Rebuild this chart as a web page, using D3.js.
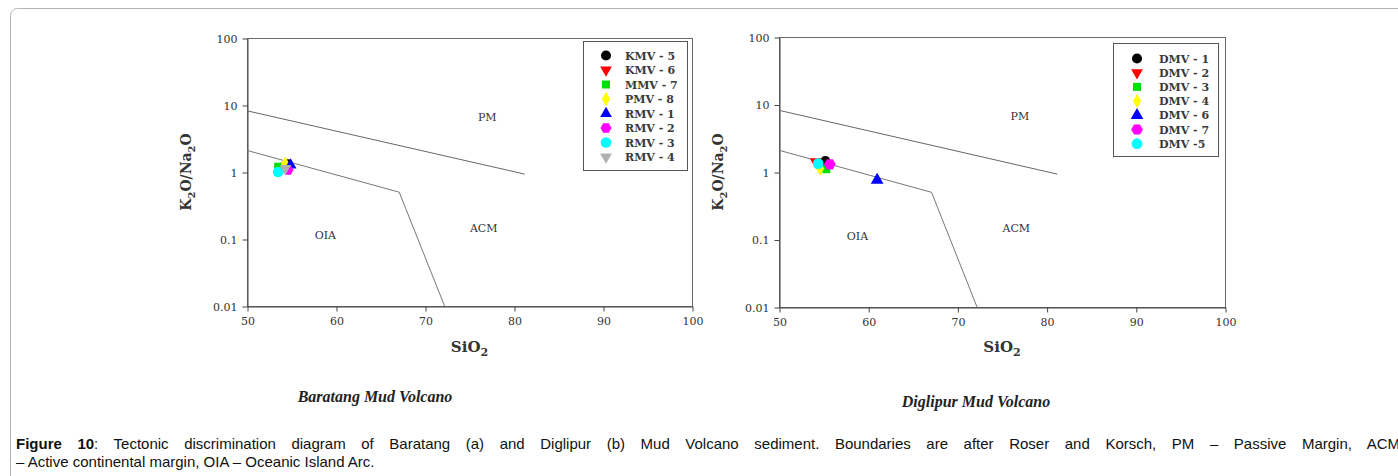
<!DOCTYPE html>
<html><head><meta charset="utf-8">
<script src="https://cdn.jsdelivr.net/npm/d3@7/dist/d3.min.js"></script>
<style>
html,body{margin:0;padding:0;background:#fff;overflow:hidden}
svg{display:block}
</style></head>
<body>
<svg id="chart" width="1398" height="476"></svg>
<script>
// ---------- data ----------
const xTicks = [50, 60, 70, 80, 90, 100];
const yTicks = [0.01, 0.1, 1, 10, 100];
const yTickLabels = ["0.01", "0.1", "1", "10", "100"];

// Roser & Korsch boundaries
const pmAcmSiO2 = [50, 81.2];
const pmAcmRatio = [8.2, 0.93];
const acmOiaSiO2 = [50, 67.1, 72.2];
const acmOiaRatio = [2.1, 0.5, 0.01];

const regionNames = ["PM", "ACM", "OIA"];
const regionSiO2 = [77, 76.6, 58.8];
const regionRatio = [5.8, 0.127, 0.1];

// Baratang samples
const leftSamples = ["KMV - 5", "KMV - 6", "MMV - 7", "PMV - 8", "RMV - 1", "RMV - 2", "RMV - 3", "RMV - 4"];
const leftSiO2 = [54.6, 54.5, 53.5, 54.3, 54.9, 54.6, 53.5, 54.3];
const leftRatio = [1.3, 1.25, 1.2, 1.33, 1.27, 1.07, 1.0, 1.13];

// Diglipur samples
const rightSamples = ["DMV - 1", "DMV - 2", "DMV - 3", "DMV - 4", "DMV - 6", "DMV - 7", "DMV -5"];
const rightSiO2 = [55.2, 54.1, 55.3, 54.6, 61.0, 55.7, 54.4];
const rightRatio = [1.45, 1.42, 1.1, 1.13, 0.76, 1.3, 1.33];

const titles = ["Baratang Mud Volcano", "Diglipur Mud Volcano"];

// ---------- styles ----------
const hexagon = {draw(ctx, size){const r=Math.sqrt(size/2.6);for(let i=0;i<6;i++){const a=Math.PI/3*i;const x=r*Math.cos(a),y=r*Math.sin(a);i?ctx.lineTo(x,y):ctx.moveTo(x,y);}ctx.closePath();}};
const downTri = {draw(ctx,size){const s=Math.sqrt(size*4/Math.sqrt(3));const h=s*Math.sqrt(3)/2;ctx.moveTo(-s/2,-h/3);ctx.lineTo(s/2,-h/3);ctx.lineTo(0,2*h/3);ctx.closePath();}};
const upTri = {draw(ctx,size){const s=Math.sqrt(size*4/Math.sqrt(3));const h=s*Math.sqrt(3)/2;ctx.moveTo(-s/2,h/3);ctx.lineTo(s/2,h/3);ctx.lineTo(0,-2*h/3);ctx.closePath();}};
const leftStyle = [
  {c:"#000000", t:d3.symbolCircle, s:80},
  {c:"#ff0000", t:downTri, s:60},
  {c:"#00e000", t:d3.symbolSquare, s:64},
  {c:"#ffff00", t:d3.symbolDiamond, s:60},
  {c:"#0000ff", t:upTri, s:60},
  {c:"#ff00ff", t:hexagon, s:80},
  {c:"#00ffff", t:d3.symbolCircle, s:90},
  {c:"#b0b0b0", t:downTri, s:60}
];
const rightStyle = [
  {c:"#000000", t:d3.symbolCircle, s:80},
  {c:"#ff0000", t:downTri, s:60},
  {c:"#00e000", t:d3.symbolSquare, s:64},
  {c:"#ffff00", t:d3.symbolDiamond, s:60},
  {c:"#0000ff", t:upTri, s:70},
  {c:"#ff00ff", t:hexagon, s:90},
  {c:"#00ffff", t:d3.symbolCircle, s:90}
];

const panels = [
  {x0:247, x1:692, y0:38, y1:306, samples:leftSamples, sio2:leftSiO2, ratio:leftRatio, style:leftStyle,
   leg:{x:583, y:41, w:104, h:129, mx:606, tx:625, ty0:55.5, dy:14.5}, ylab:191, xlabY:352, title:{x:375, y:402}},
  {x0:779, x1:1225, y0:37, y1:307, samples:rightSamples, sio2:rightSiO2, ratio:rightRatio, style:rightStyle,
   leg:{x:1113, y:43, w:105, h:113, mx:1137, tx:1159, ty0:58.5, dy:14.2}, ylab:723, xlabY:352, title:{x:976, y:407}}
];

const svg = d3.select("#chart");
const serif = "'DejaVu Serif',serif";

// outer page frame
svg.append("rect").attr("x",10.5).attr("y",8.5).attr("width",1420).attr("height",520)
  .attr("rx",7).attr("fill","none").attr("stroke","#b4b4b4").attr("stroke-width",1);

panels.forEach((p, pi) => {
  const x = d3.scaleLinear().domain([50,100]).range([p.x0,p.x1]);
  const y = d3.scaleLog().domain([0.01,100]).range([p.y1,p.y0]);
  const g = svg.append("g");

  // frame
  g.append("rect").attr("x",p.x0+0.5).attr("y",p.y0+0.5).attr("width",p.x1-p.x0).attr("height",p.y1-p.y0)
    .attr("fill","none").attr("stroke","#6a6a6a").attr("stroke-width",1);

  // axes
  const xa = g.append("g").attr("transform",`translate(0.5,${p.y1+0.5})`)
    .call(d3.axisBottom(x).tickValues(xTicks).tickSize(5).tickSizeOuter(0).tickPadding(6).tickFormat(d3.format("d")));
  const ya = g.append("g").attr("transform",`translate(${p.x0+0.5},0.5)`)
    .call(d3.axisLeft(y).tickValues(yTicks).tickSize(5).tickSizeOuter(0).tickPadding(5).tickFormat((d,i)=>yTickLabels[i]));
  [xa,ya].forEach(a=>{
    a.selectAll("path").attr("stroke","#444");
    a.selectAll("line").attr("stroke","#444");
    a.selectAll("text").attr("font-family",serif).attr("font-size","11px").attr("fill","#333");
  });

  // boundary lines
  const line = d3.line().x(d=>x(d[0])).y(d=>y(d[1]));
  g.append("path").datum(pmAcmSiO2.map((v,i)=>[v,pmAcmRatio[i]])).attr("d",line)
    .attr("fill","none").attr("stroke","#666").attr("stroke-width",1);
  g.append("path").datum(acmOiaSiO2.map((v,i)=>[v,acmOiaRatio[i]])).attr("d",line)
    .attr("fill","none").attr("stroke","#777").attr("stroke-width",1);

  // region labels
  regionNames.forEach((n,i)=>{
    g.append("text").attr("x",x(regionSiO2[i])).attr("y",y(regionRatio[i])).attr("text-anchor","middle")
      .attr("font-family",serif).attr("font-size","11px").attr("fill","#333").text(n);
  });

  // points
  p.samples.forEach((s,i)=>{
    const st = p.style[i];
    g.append("path").attr("d",d3.symbol().type(st.t).size(st.s)())
      .attr("transform",`translate(${x(p.sio2[i])},${y(p.ratio[i])})`).attr("fill",st.c);
  });

  // legend
  const L = p.leg;
  g.append("rect").attr("x",L.x+0.5).attr("y",L.y+0.5).attr("width",L.w).attr("height",L.h)
    .attr("fill","#fff").attr("stroke","#555").attr("stroke-width",1);
  p.samples.forEach((s,i)=>{
    const st = p.style[i];
    const yy = L.ty0 + i*L.dy;
    g.append("path").attr("d",d3.symbol().type(st.t).size(st.s)()).attr("transform",`translate(${L.mx},${yy})`).attr("fill",st.c);
    g.append("text").attr("x",L.tx).attr("y",yy+4).attr("font-family",serif).attr("font-size","11px")
      .attr("font-weight","bold").attr("fill","#3a3a3a").text(s);
  });

  // y label
  const yl = g.append("text").attr("transform",`translate(${p.ylab},${(p.y0+p.y1)/2}) rotate(-90)`)
    .attr("text-anchor","middle").attr("font-family",serif).attr("font-size","14px").attr("font-weight","bold").attr("fill","#333");
  yl.append("tspan").text("K");
  yl.append("tspan").attr("font-size","10px").attr("dy",4).text("2");
  yl.append("tspan").attr("dy",-4).text("O/Na");
  yl.append("tspan").attr("font-size","10px").attr("dy",4).text("2");
  yl.append("tspan").attr("dy",-4).text("O");

  // x label
  const xl = g.append("text").attr("x",(p.x0+p.x1)/2).attr("y",p.xlabY).attr("text-anchor","middle")
    .attr("font-family",serif).attr("font-size","15px").attr("font-weight","bold").attr("fill","#333");
  xl.append("tspan").text("SiO");
  xl.append("tspan").attr("font-size","11px").attr("dy",4).text("2");

  // subtitle
  g.append("text").attr("x",p.title.x).attr("y",p.title.y).attr("text-anchor","middle")
    .attr("font-family","'Liberation Serif',serif").attr("font-size","16px").attr("font-weight","bold").attr("font-style","italic")
    .attr("fill","#222").text(titles[pi]);
});

// caption (justified first line)
const capFont = "'Liberation Sans',Arial,sans-serif";
const cap = svg.append("text").attr("x",16).attr("y",449).attr("font-family",capFont)
  .attr("font-size","15px").attr("fill","#111");
cap.append("tspan").attr("font-weight","bold").text("Figure 10");
const capRest = ": Tectonic discrimination diagram of Baratang (a) and Diglipur (b) Mud Volcano sediment. Boundaries are after Roser and Korsch, PM \u2013 Passive Margin, ACM";
cap.append("tspan").text(capRest);
const natural = cap.node().getComputedTextLength();
const spaces = ("Figure 10" + capRest).split(" ").length - 1;
cap.attr("word-spacing", Math.max(0, (1400 - 16 - natural) / spaces));
svg.append("text").attr("x",16).attr("y",467).attr("font-family",capFont)
  .attr("font-size","15px").attr("fill","#111").text("\u2013 Active continental margin, OIA \u2013 Oceanic Island Arc.");
</script>
</body></html>
